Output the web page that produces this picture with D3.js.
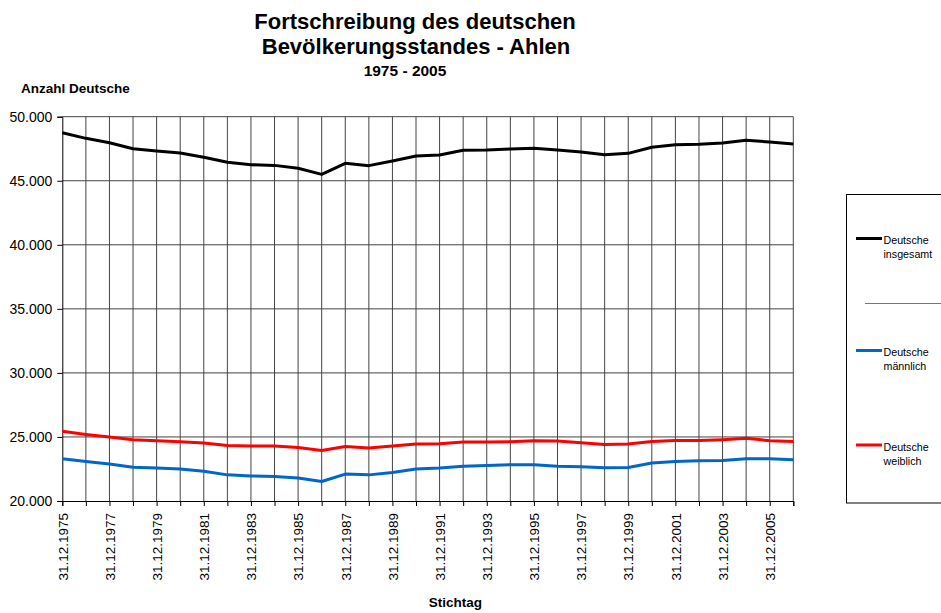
<!DOCTYPE html>
<html>
<head>
<meta charset="utf-8">
<script src="https://cdn.jsdelivr.net/npm/d3@7"></script>
<style>
  body { margin: 0; background: #fff; }
  svg { font-family: "Liberation Sans", Arial, sans-serif; }
</style>
</head>
<body>
<div id="chart"></div>
<script>
// Stichtage 31.12.1975 .. 31.12.2006
const years = d3.range(1975, 2007);
const categories = years.map(y => "31.12." + y);

// values
const insgesamt = [48750, 48310, 47970, 47500, 47320, 47170, 46830, 46440, 46250, 46200,
  45970, 45500, 46360, 46180, 46540, 46930, 47010, 47380, 47400, 47480,
  47530, 47400, 47240, 47030, 47140, 47610, 47815, 47840, 47940, 48160,
  48025, 47870];
const maennlich = [23300, 23090, 22880, 22640, 22570, 22490, 22330, 22040, 21960, 21910,
  21800, 21520, 22100, 22040, 22220, 22490, 22570, 22720, 22770, 22830,
  22830, 22720, 22670, 22590, 22620, 22960, 23090, 23140, 23160, 23300,
  23300, 23220];
const weiblich = [25440, 25200, 25000, 24790, 24710, 24630, 24530, 24340, 24290, 24290,
  24180, 23950, 24260, 24130, 24290, 24450, 24470, 24600, 24600, 24630,
  24710, 24680, 24550, 24420, 24450, 24650, 24730, 24730, 24790, 24890,
  24710, 24650];
const yTicks = [20000, 25000, 30000, 35000, 40000, 45000, 50000];

const series = [
  { name: ["Deutsche", "insgesamt"], values: insgesamt, color: "#000000" },
  { name: ["Deutsche", "männlich"], values: maennlich, color: "#0066cc" },
  { name: ["Deutsche", "weiblich"], values: weiblich, color: "#ff0000" }
];

const width = 941, height = 613;
const plotLeft = 62.3, plotRight = 793.3, plotTop = 116.7, plotBottom = 501;

const svg = d3.select("#chart").append("svg")
  .attr("width", width)
  .attr("height", height);

const x = d3.scalePoint().domain(categories).range([plotLeft, plotRight]);
const y = d3.scaleLinear().domain([20000, 50000]).range([plotBottom, plotTop]);

// gridlines
svg.append("g")
  .selectAll("line")
  .data(categories.slice(1))
  .join("line")
  .attr("x1", d => x(d)).attr("x2", d => x(d))
  .attr("y1", plotTop).attr("y2", plotBottom)
  .attr("stroke", "#444").attr("stroke-width", 1);

svg.append("g")
  .selectAll("line")
  .data(yTicks.slice(1))
  .join("line")
  .attr("x1", plotLeft).attr("x2", plotRight)
  .attr("y1", d => y(d)).attr("y2", d => y(d))
  .attr("stroke", "#444").attr("stroke-width", 1);

// axes
const xAxis = svg.append("g")
  .attr("transform", `translate(0,${plotBottom})`)
  .call(d3.axisBottom(x).tickSize(5).tickFormat((d, i) => i % 2 === 0 ? d : ""));
xAxis.select(".domain").attr("stroke", "#000");
xAxis.selectAll(".tick line").attr("stroke", "#000");
xAxis.selectAll(".tick text")
  .attr("transform", "rotate(-90)")
  .attr("x", -12).attr("y", 0).attr("dy", "0.35em")
  .style("text-anchor", "end")
  .style("font-size", "13.5px")
  .attr("fill", "#000");

const yAxis = svg.append("g")
  .attr("transform", `translate(${plotLeft},0)`)
  .call(d3.axisLeft(y).tickValues(yTicks).tickSize(5).tickFormat(d => d3.format(",")(d).replace(",", ".")));
yAxis.select(".domain").attr("stroke", "#000");
yAxis.selectAll(".tick line").attr("stroke", "#000");
yAxis.selectAll(".tick text").style("font-size", "14px").attr("x", -10).attr("fill", "#000");

// lines
const line = d3.line()
  .x((d, i) => x(categories[i]))
  .y(d => y(d));

svg.append("g")
  .selectAll("path")
  .data(series)
  .join("path")
  .attr("d", d => line(d.values))
  .attr("fill", "none")
  .attr("stroke", d => d.color)
  .attr("stroke-width", 3)
  .attr("stroke-linejoin", "round");

// titles
const title = svg.append("g").attr("text-anchor", "middle").style("font-weight", "bold");
title.append("text").attr("x", 415).attr("y", 29).style("font-size", "22px").text("Fortschreibung des deutschen");
title.append("text").attr("x", 416).attr("y", 54).style("font-size", "22px").text("Bevölkerungsstandes - Ahlen");
title.append("text").attr("x", 405).attr("y", 76).style("font-size", "15.5px").text("1975 - 2005");

svg.append("text").attr("x", 21).attr("y", 92.5)
  .style("font-size", "13.5px").style("font-weight", "bold").text("Anzahl Deutsche");
svg.append("text").attr("x", 455.5).attr("y", 607).attr("text-anchor", "middle")
  .style("font-size", "13.5px").style("font-weight", "bold").text("Stichtag");

// legend
const legend = svg.append("g");
legend.append("rect")
  .attr("x", 846.5).attr("y", 194.5).attr("width", 120).attr("height", 308.5)
  .attr("fill", "#fff").attr("stroke", "#000").attr("stroke-width", 1);
legend.append("line")
  .attr("x1", 865).attr("x2", 941).attr("y1", 303.5).attr("y2", 303.5)
  .attr("stroke", "#777").attr("stroke-width", 1);

const legendY = [238.5, 350.5, 445];
const item = legend.selectAll("g.item")
  .data(series)
  .join("g")
  .attr("class", "item")
  .attr("transform", (d, i) => `translate(0,${legendY[i]})`);
item.append("line")
  .attr("x1", 856).attr("x2", 882).attr("y1", 0).attr("y2", 0)
  .attr("stroke", d => d.color).attr("stroke-width", 3);
item.append("text")
  .attr("x", 883.5).attr("y", 5.5)
  .style("font-size", "10.7px")
  .text(d => d.name[0]);
item.append("text")
  .attr("x", 883.5).attr("y", 19.5)
  .style("font-size", "10.7px")
  .text(d => d.name[1]);
</script>
</body>
</html>
